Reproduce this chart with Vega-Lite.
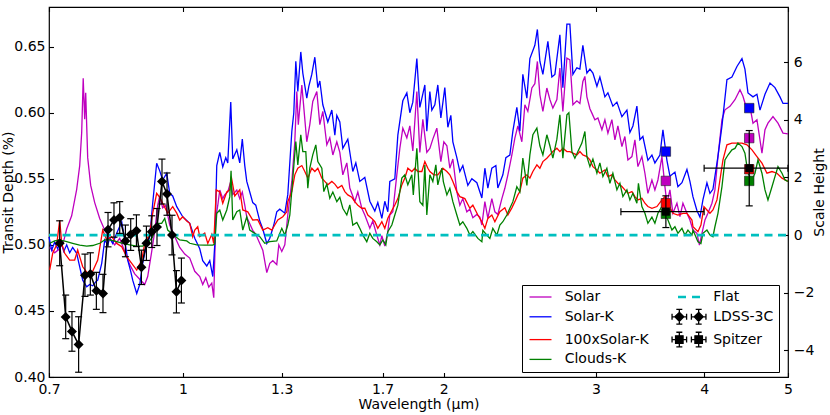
{
  "$schema": "https://vega.github.io/schema/vega-lite/v6.json",
  "width": 739,
  "height": 370,
  "autosize": {"type": "none"},
  "padding": {"left": 49, "top": 7, "right": 42, "bottom": 38},
  "background": "white",
  "config": {
    "font": "DejaVu Sans",
    "view": {"stroke": "black", "strokeWidth": 1.2},
    "axis": {
      "labelFont": "DejaVu Sans", "labelFontSize": 14, "labelColor": "black",
      "titleFont": "DejaVu Sans", "titleFontSize": 14, "titleFontWeight": "normal", "titleColor": "black",
      "tickColor": "black", "tickWidth": 1.1, "tickSize": -4.5, "domain": false, "grid": false, "labelPadding": 8.5
    }
  },
  "datasets": {
    "models": [
      {"s":"Solar","x":0.7013,"y":0.498},{"s":"Solar","x":0.7107,"y":0.494},{"s":"Solar","x":0.7202,"y":0.497},{"s":"Solar","x":0.728,"y":0.503},{"s":"Solar","x":0.7337,"y":0.512},{"s":"Solar","x":0.7435,"y":0.522},{"s":"Solar","x":0.7535,"y":0.542},{"s":"Solar","x":0.7596,"y":0.56},{"s":"Solar","x":0.7636,"y":0.585},{"s":"Solar","x":0.7667,"y":0.626},{"s":"Solar","x":0.7697,"y":0.595},{"s":"Solar","x":0.7718,"y":0.615},{"s":"Solar","x":0.7759,"y":0.566},{"s":"Solar","x":0.7821,"y":0.545},{"s":"Solar","x":0.7905,"y":0.532},{"s":"Solar","x":0.8011,"y":0.52},{"s":"Solar","x":0.8119,"y":0.511},{"s":"Solar","x":0.8227,"y":0.505},{"s":"Solar","x":0.8336,"y":0.5},{"s":"Solar","x":0.8449,"y":0.505},{"s":"Solar","x":0.8562,"y":0.495},{"s":"Solar","x":0.8677,"y":0.485},{"s":"Solar","x":0.8793,"y":0.478},{"s":"Solar","x":0.8911,"y":0.474},{"s":"Solar","x":0.903,"y":0.47},{"s":"Solar","x":0.9102,"y":0.476},{"s":"Solar","x":0.92,"y":0.495},{"s":"Solar","x":0.9273,"y":0.51},{"s":"Solar","x":0.9348,"y":0.53},{"s":"Solar","x":0.9398,"y":0.537},{"s":"Solar","x":0.9472,"y":0.528},{"s":"Solar","x":0.955,"y":0.53},{"s":"Solar","x":0.9651,"y":0.515},{"s":"Solar","x":0.9728,"y":0.51},{"s":"Solar","x":0.9833,"y":0.503},{"s":"Solar","x":0.9911,"y":0.498},{"s":"Solar","x":1.0045,"y":0.493},{"s":"Solar","x":1.0179,"y":0.49},{"s":"Solar","x":1.0316,"y":0.48},{"s":"Solar","x":1.0454,"y":0.476},{"s":"Solar","x":1.0537,"y":0.47},{"s":"Solar","x":1.0623,"y":0.475},{"s":"Solar","x":1.0708,"y":0.468},{"s":"Solar","x":1.0794,"y":0.471},{"s":"Solar","x":1.0851,"y":0.46},{"s":"Solar","x":1.0909,"y":0.52},{"s":"Solar","x":1.0968,"y":0.53},{"s":"Solar","x":1.1026,"y":0.5415},{"s":"Solar","x":1.1114,"y":0.535},{"s":"Solar","x":1.1174,"y":0.538},{"s":"Solar","x":1.1263,"y":0.54},{"s":"Solar","x":1.1353,"y":0.548},{"s":"Solar","x":1.1413,"y":0.538},{"s":"Solar","x":1.1537,"y":0.5415},{"s":"Solar","x":1.1628,"y":0.535},{"s":"Solar","x":1.1707,"y":0.54},{"s":"Solar","x":1.1784,"y":0.53},{"s":"Solar","x":1.1847,"y":0.521},{"s":"Solar","x":1.1942,"y":0.516},{"s":"Solar","x":1.2037,"y":0.511},{"s":"Solar","x":1.2134,"y":0.508},{"s":"Solar","x":1.2265,"y":0.501},{"s":"Solar","x":1.2363,"y":0.496},{"s":"Solar","x":1.2495,"y":0.479},{"s":"Solar","x":1.2595,"y":0.486},{"s":"Solar","x":1.2697,"y":0.488},{"s":"Solar","x":1.2831,"y":0.485},{"s":"Solar","x":1.2901,"y":0.5},{"s":"Solar","x":1.3004,"y":0.495},{"s":"Solar","x":1.3109,"y":0.5},{"s":"Solar","x":1.3213,"y":0.5226},{"s":"Solar","x":1.3356,"y":0.548},{"s":"Solar","x":1.3462,"y":0.578},{"s":"Solar","x":1.3534,"y":0.616},{"s":"Solar","x":1.3588,"y":0.591},{"s":"Solar","x":1.3716,"y":0.621},{"s":"Solar","x":1.3771,"y":0.608},{"s":"Solar","x":1.3898,"y":0.578},{"s":"Solar","x":1.401,"y":0.591},{"s":"Solar","x":1.4121,"y":0.6085},{"s":"Solar","x":1.4274,"y":0.616},{"s":"Solar","x":1.4389,"y":0.591},{"s":"Solar","x":1.4504,"y":0.601},{"s":"Solar","x":1.4659,"y":0.5757},{"s":"Solar","x":1.4776,"y":0.581},{"s":"Solar","x":1.4896,"y":0.568},{"s":"Solar","x":1.5054,"y":0.578},{"s":"Solar","x":1.5175,"y":0.57},{"s":"Solar","x":1.5296,"y":0.553},{"s":"Solar","x":1.546,"y":0.562},{"s":"Solar","x":1.5584,"y":0.543},{"s":"Solar","x":1.5791,"y":0.5327},{"s":"Solar","x":1.5919,"y":0.54},{"s":"Solar","x":1.609,"y":0.5276},{"s":"Solar","x":1.6218,"y":0.5226},{"s":"Solar","x":1.6436,"y":0.5125},{"s":"Solar","x":1.6566,"y":0.518},{"s":"Solar","x":1.6745,"y":0.5074},{"s":"Solar","x":1.688,"y":0.5},{"s":"Solar","x":1.697,"y":0.507},{"s":"Solar","x":1.7104,"y":0.499},{"s":"Solar","x":1.7242,"y":0.51},{"s":"Solar","x":1.7334,"y":0.5226},{"s":"Solar","x":1.7473,"y":0.525},{"s":"Solar","x":1.7659,"y":0.553},{"s":"Solar","x":1.7802,"y":0.573},{"s":"Solar","x":1.7944,"y":0.5883},{"s":"Solar","x":1.8137,"y":0.581},{"s":"Solar","x":1.8282,"y":0.59},{"s":"Solar","x":1.8428,"y":0.571},{"s":"Solar","x":1.8626,"y":0.616},{"s":"Solar","x":1.8775,"y":0.57},{"s":"Solar","x":1.8926,"y":0.595},{"s":"Solar","x":1.9127,"y":0.57},{"s":"Solar","x":1.9282,"y":0.573},{"s":"Solar","x":1.9435,"y":0.58},{"s":"Solar","x":1.9643,"y":0.5883},{"s":"Solar","x":1.9855,"y":0.563},{"s":"Solar","x":2.0013,"y":0.578},{"s":"Solar","x":2.0175,"y":0.575},{"s":"Solar","x":2.0335,"y":0.558},{"s":"Solar","x":2.0499,"y":0.565},{"s":"Solar","x":2.0717,"y":0.5403},{"s":"Solar","x":2.0884,"y":0.53},{"s":"Solar","x":2.105,"y":0.535},{"s":"Solar","x":2.1276,"y":0.525},{"s":"Solar","x":2.1448,"y":0.527},{"s":"Solar","x":2.1619,"y":0.5205},{"s":"Solar","x":2.1851,"y":0.523},{"s":"Solar","x":2.2025,"y":0.521},{"s":"Solar","x":2.2144,"y":0.515},{"s":"Solar","x":2.2321,"y":0.5327},{"s":"Solar","x":2.25,"y":0.52},{"s":"Solar","x":2.2739,"y":0.535},{"s":"Solar","x":2.2923,"y":0.525},{"s":"Solar","x":2.3105,"y":0.523},{"s":"Solar","x":2.3354,"y":0.535},{"s":"Solar","x":2.3539,"y":0.5428},{"s":"Solar","x":2.373,"y":0.553},{"s":"Solar","x":2.3984,"y":0.5681},{"s":"Solar","x":2.4175,"y":0.5808},{"s":"Solar","x":2.437,"y":0.59},{"s":"Solar","x":2.4629,"y":0.578},{"s":"Solar","x":2.4828,"y":0.606},{"s":"Solar","x":2.5025,"y":0.601},{"s":"Solar","x":2.5295,"y":0.6187},{"s":"Solar","x":2.5496,"y":0.622},{"s":"Solar","x":2.5668,"y":0.6388},{"s":"Solar","x":2.5838,"y":0.6136},{"s":"Solar","x":2.6047,"y":0.601},{"s":"Solar","x":2.6323,"y":0.6187},{"s":"Solar","x":2.6536,"y":0.61},{"s":"Solar","x":2.6747,"y":0.6035},{"s":"Solar","x":2.7035,"y":0.61},{"s":"Solar","x":2.7252,"y":0.6338},{"s":"Solar","x":2.7469,"y":0.601},{"s":"Solar","x":2.7765,"y":0.6414},{"s":"Solar","x":2.7986,"y":0.64},{"s":"Solar","x":2.8212,"y":0.606},{"s":"Solar","x":2.8511,"y":0.609},{"s":"Solar","x":2.8742,"y":0.607},{"s":"Solar","x":2.897,"y":0.6236},{"s":"Solar","x":2.9127,"y":0.6275},{"s":"Solar","x":2.9282,"y":0.612},{"s":"Solar","x":2.9518,"y":0.603},{"s":"Solar","x":2.9675,"y":0.5997},{"s":"Solar","x":2.9911,"y":0.5947},{"s":"Solar","x":3.0153,"y":0.596},{"s":"Solar","x":3.0476,"y":0.5871},{"s":"Solar","x":3.0719,"y":0.5947},{"s":"Solar","x":3.0966,"y":0.5846},{"s":"Solar","x":3.1295,"y":0.5947},{"s":"Solar","x":3.1549,"y":0.5795},{"s":"Solar","x":3.18,"y":0.59},{"s":"Solar","x":3.2141,"y":0.5744},{"s":"Solar","x":3.2396,"y":0.582},{"s":"Solar","x":3.2659,"y":0.5643},{"s":"Solar","x":3.3009,"y":0.5668},{"s":"Solar","x":3.3272,"y":0.5795},{"s":"Solar","x":3.354,"y":0.5592},{"s":"Solar","x":3.3897,"y":0.5668},{"s":"Solar","x":3.4171,"y":0.5542},{"s":"Solar","x":3.4443,"y":0.539},{"s":"Solar","x":3.4813,"y":0.5491},{"s":"Solar","x":3.509,"y":0.5416},{"s":"Solar","x":3.5373,"y":0.5491},{"s":"Solar","x":3.5753,"y":0.5668},{"s":"Solar","x":3.6038,"y":0.5441},{"s":"Solar","x":3.6229,"y":0.5315},{"s":"Solar","x":3.6521,"y":0.5416},{"s":"Solar","x":3.6811,"y":0.5239},{"s":"Solar","x":3.7208,"y":0.5315},{"s":"Solar","x":3.7507,"y":0.5213},{"s":"Solar","x":3.7806,"y":0.5315},{"s":"Solar","x":3.8212,"y":0.5239},{"s":"Solar","x":3.8517,"y":0.5188},{"s":"Solar","x":3.8827,"y":0.5112},{"s":"Solar","x":3.9239,"y":0.5087},{"s":"Solar","x":3.9505,"y":0.4998},{"s":"Solar","x":3.9767,"y":0.5087},{"s":"Solar","x":4.0087,"y":0.5188},{"s":"Solar","x":4.0406,"y":0.5239},{"s":"Solar","x":4.0841,"y":0.5315},{"s":"Solar","x":4.1165,"y":0.5416},{"s":"Solar","x":4.1499,"y":0.5668},{"s":"Solar","x":4.1944,"y":0.5947},{"s":"Solar","x":4.2279,"y":0.6022},{"s":"Solar","x":4.2846,"y":0.6048},{"s":"Solar","x":4.342,"y":0.6098},{"s":"Solar","x":4.4002,"y":0.6174},{"s":"Solar","x":4.4353,"y":0.6124},{"s":"Solar","x":4.483,"y":0.6022},{"s":"Solar","x":4.5187,"y":0.6048},{"s":"Solar","x":4.5552,"y":0.5921},{"s":"Solar","x":4.6035,"y":0.5947},{"s":"Solar","x":4.6653,"y":0.5694},{"s":"Solar","x":4.703,"y":0.5871},{"s":"Solar","x":4.7404,"y":0.5921},{"s":"Solar","x":4.8041,"y":0.5971},{"s":"Solar","x":4.8686,"y":0.5921},{"s":"Solar","x":4.9339,"y":0.5846},{"s":"Solar","x":5.0,"y":0.584},
      {"s":"Solar-K","x":0.7,"y":0.506},{"s":"Solar-K","x":0.705,"y":0.496},{"s":"Solar-K","x":0.7106,"y":0.502},{"s":"Solar-K","x":0.7164,"y":0.497},{"s":"Solar-K","x":0.7221,"y":0.503},{"s":"Solar-K","x":0.728,"y":0.495},{"s":"Solar-K","x":0.7337,"y":0.5},{"s":"Solar-K","x":0.7396,"y":0.494},{"s":"Solar-K","x":0.7455,"y":0.498},{"s":"Solar-K","x":0.7535,"y":0.4936},{"s":"Solar-K","x":0.7596,"y":0.4834},{"s":"Solar-K","x":0.7657,"y":0.4733},{"s":"Solar-K","x":0.7739,"y":0.4683},{"s":"Solar-K","x":0.78,"y":0.47},{"s":"Solar-K","x":0.7863,"y":0.469},{"s":"Solar-K","x":0.7925,"y":0.472},{"s":"Solar-K","x":0.7969,"y":0.4733},{"s":"Solar-K","x":0.8054,"y":0.486},{"s":"Solar-K","x":0.8119,"y":0.5037},{"s":"Solar-K","x":0.8183,"y":0.5},{"s":"Solar-K","x":0.8227,"y":0.505},{"s":"Solar-K","x":0.8293,"y":0.501},{"s":"Solar-K","x":0.8382,"y":0.5087},{"s":"Solar-K","x":0.8494,"y":0.5175},{"s":"Solar-K","x":0.8562,"y":0.5037},{"s":"Solar-K","x":0.8631,"y":0.4885},{"s":"Solar-K","x":0.87,"y":0.48},{"s":"Solar-K","x":0.8746,"y":0.4733},{"s":"Solar-K","x":0.884,"y":0.4632},{"s":"Solar-K","x":0.8911,"y":0.47},{"s":"Solar-K","x":0.8982,"y":0.486},{"s":"Solar-K","x":0.903,"y":0.4936},{"s":"Solar-K","x":0.915,"y":0.5061},{"s":"Solar-K","x":0.9224,"y":0.5315},{"s":"Solar-K","x":0.9322,"y":0.5618},{"s":"Solar-K","x":0.9398,"y":0.556},{"s":"Solar-K","x":0.9472,"y":0.5491},{"s":"Solar-K","x":0.9575,"y":0.5542},{"s":"Solar-K","x":0.9651,"y":0.539},{"s":"Solar-K","x":0.9728,"y":0.537},{"s":"Solar-K","x":0.9833,"y":0.5289},{"s":"Solar-K","x":0.9991,"y":0.5213},{"s":"Solar-K","x":1.0179,"y":0.5163},{"s":"Solar-K","x":1.0316,"y":0.505},{"s":"Solar-K","x":1.0454,"y":0.497},{"s":"Solar-K","x":1.0537,"y":0.488},{"s":"Solar-K","x":1.0651,"y":0.484},{"s":"Solar-K","x":1.0736,"y":0.488},{"s":"Solar-K","x":1.0823,"y":0.476},{"s":"Solar-K","x":1.088,"y":0.5},{"s":"Solar-K","x":1.0938,"y":0.56},{"s":"Solar-K","x":1.1026,"y":0.57},{"s":"Solar-K","x":1.1114,"y":0.559},{"s":"Solar-K","x":1.1203,"y":0.566},{"s":"Solar-K","x":1.1263,"y":0.562},{"s":"Solar-K","x":1.1353,"y":0.608},{"s":"Solar-K","x":1.1413,"y":0.565},{"s":"Solar-K","x":1.1537,"y":0.572},{"s":"Solar-K","x":1.1628,"y":0.562},{"s":"Solar-K","x":1.1707,"y":0.58},{"s":"Solar-K","x":1.1784,"y":0.56},{"s":"Solar-K","x":1.1847,"y":0.548},{"s":"Solar-K","x":1.1942,"y":0.54},{"s":"Solar-K","x":1.2037,"y":0.532},{"s":"Solar-K","x":1.2134,"y":0.53},{"s":"Solar-K","x":1.2265,"y":0.518},{"s":"Solar-K","x":1.2363,"y":0.512},{"s":"Solar-K","x":1.2495,"y":0.501},{"s":"Solar-K","x":1.2595,"y":0.505},{"s":"Solar-K","x":1.273,"y":0.515},{"s":"Solar-K","x":1.2831,"y":0.525},{"s":"Solar-K","x":1.2935,"y":0.527},{"s":"Solar-K","x":1.3109,"y":0.524},{"s":"Solar-K","x":1.3213,"y":0.538},{"s":"Solar-K","x":1.3356,"y":0.586},{"s":"Solar-K","x":1.3426,"y":0.6},{"s":"Solar-K","x":1.3498,"y":0.639},{"s":"Solar-K","x":1.357,"y":0.616},{"s":"Solar-K","x":1.3678,"y":0.646},{"s":"Solar-K","x":1.3752,"y":0.63},{"s":"Solar-K","x":1.3898,"y":0.611},{"s":"Solar-K","x":1.3973,"y":0.62},{"s":"Solar-K","x":1.4084,"y":0.629},{"s":"Solar-K","x":1.4199,"y":0.642},{"s":"Solar-K","x":1.4312,"y":0.619},{"s":"Solar-K","x":1.4389,"y":0.624},{"s":"Solar-K","x":1.4504,"y":0.606},{"s":"Solar-K","x":1.4698,"y":0.593},{"s":"Solar-K","x":1.4856,"y":0.602},{"s":"Solar-K","x":1.4975,"y":0.583},{"s":"Solar-K","x":1.5054,"y":0.598},{"s":"Solar-K","x":1.5175,"y":0.593},{"s":"Solar-K","x":1.5296,"y":0.573},{"s":"Solar-K","x":1.5501,"y":0.58},{"s":"Solar-K","x":1.5708,"y":0.5555},{"s":"Solar-K","x":1.5835,"y":0.562},{"s":"Solar-K","x":1.6003,"y":0.548},{"s":"Solar-K","x":1.6218,"y":0.551},{"s":"Solar-K","x":1.6436,"y":0.533},{"s":"Solar-K","x":1.6656,"y":0.5255},{"s":"Solar-K","x":1.6789,"y":0.532},{"s":"Solar-K","x":1.697,"y":0.52},{"s":"Solar-K","x":1.7104,"y":0.533},{"s":"Solar-K","x":1.7242,"y":0.525},{"s":"Solar-K","x":1.7334,"y":0.548},{"s":"Solar-K","x":1.7566,"y":0.55},{"s":"Solar-K","x":1.7708,"y":0.583},{"s":"Solar-K","x":1.7944,"y":0.609},{"s":"Solar-K","x":1.8137,"y":0.615},{"s":"Solar-K","x":1.8282,"y":0.6},{"s":"Solar-K","x":1.8428,"y":0.608},{"s":"Solar-K","x":1.8626,"y":0.641},{"s":"Solar-K","x":1.8775,"y":0.604},{"s":"Solar-K","x":1.9027,"y":0.621},{"s":"Solar-K","x":1.9127,"y":0.586},{"s":"Solar-K","x":1.9282,"y":0.616},{"s":"Solar-K","x":1.9384,"y":0.602},{"s":"Solar-K","x":1.954,"y":0.606},{"s":"Solar-K","x":1.9695,"y":0.621},{"s":"Solar-K","x":1.9855,"y":0.596},{"s":"Solar-K","x":2.0065,"y":0.619},{"s":"Solar-K","x":2.0228,"y":0.589},{"s":"Solar-K","x":2.0389,"y":0.598},{"s":"Solar-K","x":2.0499,"y":0.578},{"s":"Solar-K","x":2.0717,"y":0.566},{"s":"Solar-K","x":2.0884,"y":0.5555},{"s":"Solar-K","x":2.105,"y":0.56},{"s":"Solar-K","x":2.1333,"y":0.545},{"s":"Solar-K","x":2.1562,"y":0.55},{"s":"Solar-K","x":2.1851,"y":0.547},{"s":"Solar-K","x":2.2144,"y":0.5355},{"s":"Solar-K","x":2.2321,"y":0.558},{"s":"Solar-K","x":2.25,"y":0.543},{"s":"Solar-K","x":2.2739,"y":0.558},{"s":"Solar-K","x":2.2984,"y":0.56},{"s":"Solar-K","x":2.3105,"y":0.543},{"s":"Solar-K","x":2.3415,"y":0.553},{"s":"Solar-K","x":2.3604,"y":0.566},{"s":"Solar-K","x":2.3855,"y":0.568},{"s":"Solar-K","x":2.4048,"y":0.586},{"s":"Solar-K","x":2.4303,"y":0.604},{"s":"Solar-K","x":2.45,"y":0.586},{"s":"Solar-K","x":2.4694,"y":0.629},{"s":"Solar-K","x":2.496,"y":0.611},{"s":"Solar-K","x":2.5161,"y":0.641},{"s":"Solar-K","x":2.5496,"y":0.651},{"s":"Solar-K","x":2.5668,"y":0.663},{"s":"Solar-K","x":2.5838,"y":0.639},{"s":"Solar-K","x":2.6047,"y":0.629},{"s":"Solar-K","x":2.6396,"y":0.654},{"s":"Solar-K","x":2.6677,"y":0.627},{"s":"Solar-K","x":2.6892,"y":0.629},{"s":"Solar-K","x":2.7252,"y":0.659},{"s":"Solar-K","x":2.7469,"y":0.619},{"s":"Solar-K","x":2.7765,"y":0.667},{"s":"Solar-K","x":2.7986,"y":0.667},{"s":"Solar-K","x":2.8212,"y":0.629},{"s":"Solar-K","x":2.8511,"y":0.634},{"s":"Solar-K","x":2.8742,"y":0.633},{"s":"Solar-K","x":2.897,"y":0.651},{"s":"Solar-K","x":2.9282,"y":0.63},{"s":"Solar-K","x":2.9518,"y":0.633},{"s":"Solar-K","x":2.9754,"y":0.63},{"s":"Solar-K","x":3.0073,"y":0.62},{"s":"Solar-K","x":3.0312,"y":0.627},{"s":"Solar-K","x":3.0719,"y":0.612},{"s":"Solar-K","x":3.0966,"y":0.615},{"s":"Solar-K","x":3.1378,"y":0.605},{"s":"Solar-K","x":3.1716,"y":0.608},{"s":"Solar-K","x":3.2141,"y":0.597},{"s":"Solar-K","x":3.2572,"y":0.602},{"s":"Solar-K","x":3.2832,"y":0.585},{"s":"Solar-K","x":3.3097,"y":0.59},{"s":"Solar-K","x":3.3448,"y":0.605},{"s":"Solar-K","x":3.3718,"y":0.5795},{"s":"Solar-K","x":3.3986,"y":0.582},{"s":"Solar-K","x":3.4443,"y":0.564},{"s":"Solar-K","x":3.4813,"y":0.568},{"s":"Solar-K","x":3.509,"y":0.562},{"s":"Solar-K","x":3.556,"y":0.568},{"s":"Solar-K","x":3.5848,"y":0.587},{"s":"Solar-K","x":3.6229,"y":0.564},{"s":"Solar-K","x":3.6521,"y":0.552},{"s":"Solar-K","x":3.7011,"y":0.555},{"s":"Solar-K","x":3.7306,"y":0.544},{"s":"Solar-K","x":3.7707,"y":0.547},{"s":"Solar-K","x":3.8212,"y":0.557},{"s":"Solar-K","x":3.8517,"y":0.548},{"s":"Solar-K","x":3.8827,"y":0.5365},{"s":"Solar-K","x":3.9239,"y":0.526},{"s":"Solar-K","x":3.9557,"y":0.521},{"s":"Solar-K","x":3.9871,"y":0.534},{"s":"Solar-K","x":4.03,"y":0.547},{"s":"Solar-K","x":4.0625,"y":0.539},{"s":"Solar-K","x":4.0949,"y":0.542},{"s":"Solar-K","x":4.1499,"y":0.567},{"s":"Solar-K","x":4.1944,"y":0.59},{"s":"Solar-K","x":4.2502,"y":0.625},{"s":"Solar-K","x":4.3072,"y":0.627},{"s":"Solar-K","x":4.3651,"y":0.635},{"s":"Solar-K","x":4.4236,"y":0.641},{"s":"Solar-K","x":4.4587,"y":0.633},{"s":"Solar-K","x":4.4949,"y":0.615},{"s":"Solar-K","x":4.5552,"y":0.612},{"s":"Solar-K","x":4.6035,"y":0.614},{"s":"Solar-K","x":4.6408,"y":0.602},{"s":"Solar-K","x":4.703,"y":0.614},{"s":"Solar-K","x":4.7661,"y":0.6225},{"s":"Solar-K","x":4.8295,"y":0.619},{"s":"Solar-K","x":4.8943,"y":0.612},{"s":"Solar-K","x":4.9339,"y":0.607},{"s":"Solar-K","x":5.0,"y":0.607},
      {"s":"100xSolar-K","x":0.7013,"y":0.481},{"s":"100xSolar-K","x":0.7069,"y":0.4936},{"s":"100xSolar-K","x":0.7145,"y":0.5},{"s":"100xSolar-K","x":0.7202,"y":0.5188},{"s":"100xSolar-K","x":0.7241,"y":0.5011},{"s":"100xSolar-K","x":0.7299,"y":0.4936},{"s":"100xSolar-K","x":0.7396,"y":0.4885},{"s":"100xSolar-K","x":0.7495,"y":0.4885},{"s":"100xSolar-K","x":0.7555,"y":0.4961},{"s":"100xSolar-K","x":0.7657,"y":0.4834},{"s":"100xSolar-K","x":0.7759,"y":0.4784},{"s":"100xSolar-K","x":0.7863,"y":0.48},{"s":"100xSolar-K","x":0.7969,"y":0.4885},{"s":"100xSolar-K","x":0.8075,"y":0.5112},{"s":"100xSolar-K","x":0.8162,"y":0.5037},{"s":"100xSolar-K","x":0.8271,"y":0.5062},{"s":"100xSolar-K","x":0.8382,"y":0.5011},{"s":"100xSolar-K","x":0.8494,"y":0.4986},{"s":"100xSolar-K","x":0.8607,"y":0.491},{"s":"100xSolar-K","x":0.8723,"y":0.486},{"s":"100xSolar-K","x":0.884,"y":0.4809},{"s":"100xSolar-K","x":0.8958,"y":0.4885},{"s":"100xSolar-K","x":0.903,"y":0.5011},{"s":"100xSolar-K","x":0.915,"y":0.5087},{"s":"100xSolar-K","x":0.9224,"y":0.5239},{"s":"100xSolar-K","x":0.9322,"y":0.539},{"s":"100xSolar-K","x":0.9398,"y":0.536},{"s":"100xSolar-K","x":0.9472,"y":0.5315},{"s":"100xSolar-K","x":0.96,"y":0.5239},{"s":"100xSolar-K","x":0.9728,"y":0.5289},{"s":"100xSolar-K","x":0.9833,"y":0.524},{"s":"100xSolar-K","x":0.9911,"y":0.5188},{"s":"100xSolar-K","x":0.9991,"y":0.5213},{"s":"100xSolar-K","x":1.0098,"y":0.518},{"s":"100xSolar-K","x":1.0179,"y":0.5163},{"s":"100xSolar-K","x":1.026,"y":0.5062},{"s":"100xSolar-K","x":1.0316,"y":0.5112},{"s":"100xSolar-K","x":1.0398,"y":0.5137},{"s":"100xSolar-K","x":1.0454,"y":0.5062},{"s":"100xSolar-K","x":1.0593,"y":0.509},{"s":"100xSolar-K","x":1.068,"y":0.5011},{"s":"100xSolar-K","x":1.0794,"y":0.508},{"s":"100xSolar-K","x":1.0851,"y":0.501},{"s":"100xSolar-K","x":1.0923,"y":0.5416},{"s":"100xSolar-K","x":1.1026,"y":0.54},{"s":"100xSolar-K","x":1.1114,"y":0.5315},{"s":"100xSolar-K","x":1.1233,"y":0.54},{"s":"100xSolar-K","x":1.1323,"y":0.5416},{"s":"100xSolar-K","x":1.1368,"y":0.5517},{"s":"100xSolar-K","x":1.1474,"y":0.537},{"s":"100xSolar-K","x":1.1628,"y":0.5416},{"s":"100xSolar-K","x":1.1722,"y":0.5264},{"s":"100xSolar-K","x":1.1879,"y":0.525},{"s":"100xSolar-K","x":1.2037,"y":0.5188},{"s":"100xSolar-K","x":1.2198,"y":0.519},{"s":"100xSolar-K","x":1.2363,"y":0.5112},{"s":"100xSolar-K","x":1.2528,"y":0.513},{"s":"100xSolar-K","x":1.2663,"y":0.5112},{"s":"100xSolar-K","x":1.2764,"y":0.515},{"s":"100xSolar-K","x":1.2867,"y":0.5188},{"s":"100xSolar-K","x":1.3038,"y":0.5213},{"s":"100xSolar-K","x":1.3178,"y":0.525},{"s":"100xSolar-K","x":1.3213,"y":0.5327},{"s":"100xSolar-K","x":1.3356,"y":0.5403},{"s":"100xSolar-K","x":1.3462,"y":0.553},{"s":"100xSolar-K","x":1.357,"y":0.558},{"s":"100xSolar-K","x":1.3716,"y":0.56},{"s":"100xSolar-K","x":1.3825,"y":0.5555},{"s":"100xSolar-K","x":1.3936,"y":0.5505},{"s":"100xSolar-K","x":1.4084,"y":0.558},{"s":"100xSolar-K","x":1.4199,"y":0.5555},{"s":"100xSolar-K","x":1.4312,"y":0.558},{"s":"100xSolar-K","x":1.4466,"y":0.5505},{"s":"100xSolar-K","x":1.458,"y":0.548},{"s":"100xSolar-K","x":1.4698,"y":0.5454},{"s":"100xSolar-K","x":1.4856,"y":0.548},{"s":"100xSolar-K","x":1.4975,"y":0.546},{"s":"100xSolar-K","x":1.5095,"y":0.543},{"s":"100xSolar-K","x":1.5256,"y":0.545},{"s":"100xSolar-K","x":1.5379,"y":0.5403},{"s":"100xSolar-K","x":1.5501,"y":0.5378},{"s":"100xSolar-K","x":1.5667,"y":0.536},{"s":"100xSolar-K","x":1.5791,"y":0.5327},{"s":"100xSolar-K","x":1.5919,"y":0.53},{"s":"100xSolar-K","x":1.609,"y":0.5277},{"s":"100xSolar-K","x":1.6218,"y":0.5277},{"s":"100xSolar-K","x":1.6349,"y":0.5226},{"s":"100xSolar-K","x":1.6523,"y":0.52},{"s":"100xSolar-K","x":1.6656,"y":0.5175},{"s":"100xSolar-K","x":1.6789,"y":0.5125},{"s":"100xSolar-K","x":1.697,"y":0.5175},{"s":"100xSolar-K","x":1.7104,"y":0.5125},{"s":"100xSolar-K","x":1.7242,"y":0.5201},{"s":"100xSolar-K","x":1.7427,"y":0.526},{"s":"100xSolar-K","x":1.7566,"y":0.5302},{"s":"100xSolar-K","x":1.7708,"y":0.535},{"s":"100xSolar-K","x":1.7896,"y":0.5454},{"s":"100xSolar-K","x":1.8041,"y":0.5505},{"s":"100xSolar-K","x":1.8184,"y":0.558},{"s":"100xSolar-K","x":1.8379,"y":0.5555},{"s":"100xSolar-K","x":1.8525,"y":0.558},{"s":"100xSolar-K","x":1.8676,"y":0.5555},{"s":"100xSolar-K","x":1.8876,"y":0.5555},{"s":"100xSolar-K","x":1.9027,"y":0.563},{"s":"100xSolar-K","x":1.918,"y":0.558},{"s":"100xSolar-K","x":1.9282,"y":0.5555},{"s":"100xSolar-K","x":1.9488,"y":0.553},{"s":"100xSolar-K","x":1.9695,"y":0.553},{"s":"100xSolar-K","x":1.996,"y":0.558},{"s":"100xSolar-K","x":2.0175,"y":0.5555},{"s":"100xSolar-K","x":2.0335,"y":0.553},{"s":"100xSolar-K","x":2.0499,"y":0.548},{"s":"100xSolar-K","x":2.0717,"y":0.5403},{"s":"100xSolar-K","x":2.0884,"y":0.5365},{"s":"100xSolar-K","x":2.1164,"y":0.535},{"s":"100xSolar-K","x":2.1448,"y":0.5277},{"s":"100xSolar-K","x":2.1619,"y":0.53},{"s":"100xSolar-K","x":2.1909,"y":0.5226},{"s":"100xSolar-K","x":2.2144,"y":0.5175},{"s":"100xSolar-K","x":2.2321,"y":0.5125},{"s":"100xSolar-K","x":2.25,"y":0.52},{"s":"100xSolar-K","x":2.2739,"y":0.5226},{"s":"100xSolar-K","x":2.2923,"y":0.5175},{"s":"100xSolar-K","x":2.323,"y":0.5251},{"s":"100xSolar-K","x":2.3539,"y":0.528},{"s":"100xSolar-K","x":2.373,"y":0.5226},{"s":"100xSolar-K","x":2.3984,"y":0.528},{"s":"100xSolar-K","x":2.4175,"y":0.5327},{"s":"100xSolar-K","x":2.437,"y":0.5378},{"s":"100xSolar-K","x":2.45,"y":0.5403},{"s":"100xSolar-K","x":2.4694,"y":0.5505},{"s":"100xSolar-K","x":2.496,"y":0.553},{"s":"100xSolar-K","x":2.5161,"y":0.5505},{"s":"100xSolar-K","x":2.5362,"y":0.5555},{"s":"100xSolar-K","x":2.5634,"y":0.5605},{"s":"100xSolar-K","x":2.5838,"y":0.558},{"s":"100xSolar-K","x":2.6047,"y":0.563},{"s":"100xSolar-K","x":2.6323,"y":0.5655},{"s":"100xSolar-K","x":2.6536,"y":0.5681},{"s":"100xSolar-K","x":2.6747,"y":0.5706},{"s":"100xSolar-K","x":2.7035,"y":0.5731},{"s":"100xSolar-K","x":2.7252,"y":0.5706},{"s":"100xSolar-K","x":2.7469,"y":0.5731},{"s":"100xSolar-K","x":2.7765,"y":0.5706},{"s":"100xSolar-K","x":2.7986,"y":0.5706},{"s":"100xSolar-K","x":2.8212,"y":0.5694},{"s":"100xSolar-K","x":2.8511,"y":0.5681},{"s":"100xSolar-K","x":2.8742,"y":0.5706},{"s":"100xSolar-K","x":2.897,"y":0.5681},{"s":"100xSolar-K","x":2.9282,"y":0.5668},{"s":"100xSolar-K","x":2.9518,"y":0.5643},{"s":"100xSolar-K","x":2.9754,"y":0.5592},{"s":"100xSolar-K","x":3.0073,"y":0.5567},{"s":"100xSolar-K","x":3.0312,"y":0.5542},{"s":"100xSolar-K","x":3.0719,"y":0.5567},{"s":"100xSolar-K","x":3.0966,"y":0.5517},{"s":"100xSolar-K","x":3.1295,"y":0.553},{"s":"100xSolar-K","x":3.1549,"y":0.5491},{"s":"100xSolar-K","x":3.18,"y":0.5466},{"s":"100xSolar-K","x":3.2141,"y":0.5441},{"s":"100xSolar-K","x":3.2396,"y":0.5416},{"s":"100xSolar-K","x":3.2659,"y":0.539},{"s":"100xSolar-K","x":3.3009,"y":0.5403},{"s":"100xSolar-K","x":3.3272,"y":0.5365},{"s":"100xSolar-K","x":3.354,"y":0.534},{"s":"100xSolar-K","x":3.3897,"y":0.5352},{"s":"100xSolar-K","x":3.4171,"y":0.5315},{"s":"100xSolar-K","x":3.4443,"y":0.529},{"s":"100xSolar-K","x":3.4813,"y":0.5277},{"s":"100xSolar-K","x":3.528,"y":0.529},{"s":"100xSolar-K","x":3.5753,"y":0.534},{"s":"100xSolar-K","x":3.6038,"y":0.5365},{"s":"100xSolar-K","x":3.6328,"y":0.5315},{"s":"100xSolar-K","x":3.6811,"y":0.5239},{"s":"100xSolar-K","x":3.7306,"y":0.5226},{"s":"100xSolar-K","x":3.7806,"y":0.5239},{"s":"100xSolar-K","x":3.8212,"y":0.5239},{"s":"100xSolar-K","x":3.8724,"y":0.5188},{"s":"100xSolar-K","x":3.8833,"y":0.5137},{"s":"100xSolar-K","x":3.9348,"y":0.51},{"s":"100xSolar-K","x":3.9662,"y":0.515},{"s":"100xSolar-K","x":3.9981,"y":0.5289},{"s":"100xSolar-K","x":4.03,"y":0.5264},{"s":"100xSolar-K","x":4.0625,"y":0.5239},{"s":"100xSolar-K","x":4.0949,"y":0.5264},{"s":"100xSolar-K","x":4.1389,"y":0.534},{"s":"100xSolar-K","x":4.1718,"y":0.5491},{"s":"100xSolar-K","x":4.2056,"y":0.5643},{"s":"100xSolar-K","x":4.2502,"y":0.5757},{"s":"100xSolar-K","x":4.3072,"y":0.577},{"s":"100xSolar-K","x":4.3651,"y":0.577},{"s":"100xSolar-K","x":4.4236,"y":0.577},{"s":"100xSolar-K","x":4.483,"y":0.5757},{"s":"100xSolar-K","x":4.5431,"y":0.5719},{"s":"100xSolar-K","x":4.6035,"y":0.5668},{"s":"100xSolar-K","x":4.6653,"y":0.5618},{"s":"100xSolar-K","x":4.7279,"y":0.5542},{"s":"100xSolar-K","x":4.7914,"y":0.5555},{"s":"100xSolar-K","x":4.8557,"y":0.5542},{"s":"100xSolar-K","x":4.9208,"y":0.5505},{"s":"100xSolar-K","x":5.0,"y":0.548},
      {"s":"Clouds-K","x":0.7013,"y":0.5012},{"s":"Clouds-K","x":0.7107,"y":0.503},{"s":"Clouds-K","x":0.7202,"y":0.5037},{"s":"Clouds-K","x":0.728,"y":0.503},{"s":"Clouds-K","x":0.7337,"y":0.5025},{"s":"Clouds-K","x":0.7455,"y":0.5012},{"s":"Clouds-K","x":0.7596,"y":0.4998},{"s":"Clouds-K","x":0.7739,"y":0.499},{"s":"Clouds-K","x":0.7863,"y":0.4995},{"s":"Clouds-K","x":0.8011,"y":0.5012},{"s":"Clouds-K","x":0.8119,"y":0.5037},{"s":"Clouds-K","x":0.8227,"y":0.5037},{"s":"Clouds-K","x":0.8382,"y":0.5025},{"s":"Clouds-K","x":0.8517,"y":0.5012},{"s":"Clouds-K","x":0.8677,"y":0.5},{"s":"Clouds-K","x":0.884,"y":0.499},{"s":"Clouds-K","x":0.8982,"y":0.499},{"s":"Clouds-K","x":0.9102,"y":0.5012},{"s":"Clouds-K","x":0.9224,"y":0.5062},{"s":"Clouds-K","x":0.9348,"y":0.5163},{"s":"Clouds-K","x":0.9447,"y":0.5163},{"s":"Clouds-K","x":0.9524,"y":0.52},{"s":"Clouds-K","x":0.96,"y":0.5112},{"s":"Clouds-K","x":0.9728,"y":0.508},{"s":"Clouds-K","x":0.9911,"y":0.5037},{"s":"Clouds-K","x":1.0098,"y":0.503},{"s":"Clouds-K","x":1.0179,"y":0.5012},{"s":"Clouds-K","x":1.0371,"y":0.5},{"s":"Clouds-K","x":1.0593,"y":0.4998},{"s":"Clouds-K","x":1.0823,"y":0.4998},{"s":"Clouds-K","x":1.088,"y":0.5005},{"s":"Clouds-K","x":1.0938,"y":0.5239},{"s":"Clouds-K","x":1.1026,"y":0.5264},{"s":"Clouds-K","x":1.1114,"y":0.5188},{"s":"Clouds-K","x":1.1233,"y":0.5264},{"s":"Clouds-K","x":1.1323,"y":0.5365},{"s":"Clouds-K","x":1.1362,"y":0.556},{"s":"Clouds-K","x":1.1413,"y":0.5188},{"s":"Clouds-K","x":1.1537,"y":0.525},{"s":"Clouds-K","x":1.1628,"y":0.5264},{"s":"Clouds-K","x":1.1722,"y":0.5112},{"s":"Clouds-K","x":1.1847,"y":0.5213},{"s":"Clouds-K","x":1.1942,"y":0.5112},{"s":"Clouds-K","x":1.2102,"y":0.5087},{"s":"Clouds-K","x":1.2265,"y":0.5062},{"s":"Clouds-K","x":1.2428,"y":0.5012},{"s":"Clouds-K","x":1.2595,"y":0.5024},{"s":"Clouds-K","x":1.2831,"y":0.503},{"s":"Clouds-K","x":1.3004,"y":0.5125},{"s":"Clouds-K","x":1.3109,"y":0.5074},{"s":"Clouds-K","x":1.3213,"y":0.515},{"s":"Clouds-K","x":1.3285,"y":0.5226},{"s":"Clouds-K","x":1.3391,"y":0.5505},{"s":"Clouds-K","x":1.3498,"y":0.5782},{"s":"Clouds-K","x":1.357,"y":0.5605},{"s":"Clouds-K","x":1.3678,"y":0.5833},{"s":"Clouds-K","x":1.3752,"y":0.5706},{"s":"Clouds-K","x":1.3862,"y":0.5706},{"s":"Clouds-K","x":1.3936,"y":0.5429},{"s":"Clouds-K","x":1.401,"y":0.558},{"s":"Clouds-K","x":1.4121,"y":0.5681},{"s":"Clouds-K","x":1.4236,"y":0.5757},{"s":"Clouds-K","x":1.4312,"y":0.5631},{"s":"Clouds-K","x":1.4466,"y":0.558},{"s":"Clouds-K","x":1.4542,"y":0.5403},{"s":"Clouds-K","x":1.4659,"y":0.546},{"s":"Clouds-K","x":1.4776,"y":0.5352},{"s":"Clouds-K","x":1.4896,"y":0.54},{"s":"Clouds-K","x":1.5054,"y":0.5327},{"s":"Clouds-K","x":1.5175,"y":0.536},{"s":"Clouds-K","x":1.5296,"y":0.5277},{"s":"Clouds-K","x":1.546,"y":0.5226},{"s":"Clouds-K","x":1.5584,"y":0.5302},{"s":"Clouds-K","x":1.5708,"y":0.515},{"s":"Clouds-K","x":1.5877,"y":0.517},{"s":"Clouds-K","x":1.6003,"y":0.5125},{"s":"Clouds-K","x":1.6133,"y":0.5074},{"s":"Clouds-K","x":1.6304,"y":0.5024},{"s":"Clouds-K","x":1.6436,"y":0.5087},{"s":"Clouds-K","x":1.6566,"y":0.5049},{"s":"Clouds-K","x":1.6745,"y":0.5024},{"s":"Clouds-K","x":1.688,"y":0.5},{"s":"Clouds-K","x":1.7015,"y":0.5037},{"s":"Clouds-K","x":1.7151,"y":0.5},{"s":"Clouds-K","x":1.7242,"y":0.51},{"s":"Clouds-K","x":1.7427,"y":0.515},{"s":"Clouds-K","x":1.7566,"y":0.5226},{"s":"Clouds-K","x":1.7708,"y":0.53},{"s":"Clouds-K","x":1.7896,"y":0.5505},{"s":"Clouds-K","x":1.8041,"y":0.553},{"s":"Clouds-K","x":1.8184,"y":0.5454},{"s":"Clouds-K","x":1.8379,"y":0.553},{"s":"Clouds-K","x":1.8452,"y":0.5378},{"s":"Clouds-K","x":1.8626,"y":0.5731},{"s":"Clouds-K","x":1.8775,"y":0.5327},{"s":"Clouds-K","x":1.8926,"y":0.53},{"s":"Clouds-K","x":1.9027,"y":0.5605},{"s":"Clouds-K","x":1.9127,"y":0.5226},{"s":"Clouds-K","x":1.9282,"y":0.553},{"s":"Clouds-K","x":1.9435,"y":0.5479},{"s":"Clouds-K","x":1.9592,"y":0.5605},{"s":"Clouds-K","x":1.9695,"y":0.5454},{"s":"Clouds-K","x":1.9907,"y":0.558},{"s":"Clouds-K","x":1.9986,"y":0.5479},{"s":"Clouds-K","x":2.0175,"y":0.5378},{"s":"Clouds-K","x":2.0335,"y":0.5428},{"s":"Clouds-K","x":2.0499,"y":0.5327},{"s":"Clouds-K","x":2.0717,"y":0.5226},{"s":"Clouds-K","x":2.0884,"y":0.515},{"s":"Clouds-K","x":2.105,"y":0.5175},{"s":"Clouds-K","x":2.1276,"y":0.5125},{"s":"Clouds-K","x":2.1448,"y":0.5074},{"s":"Clouds-K","x":2.1619,"y":0.51},{"s":"Clouds-K","x":2.1909,"y":0.5049},{"s":"Clouds-K","x":2.2144,"y":0.5024},{"s":"Clouds-K","x":2.2203,"y":0.511},{"s":"Clouds-K","x":2.2439,"y":0.5074},{"s":"Clouds-K","x":2.262,"y":0.5049},{"s":"Clouds-K","x":2.2799,"y":0.5125},{"s":"Clouds-K","x":2.3044,"y":0.5074},{"s":"Clouds-K","x":2.323,"y":0.515},{"s":"Clouds-K","x":2.3415,"y":0.5175},{"s":"Clouds-K","x":2.3667,"y":0.5226},{"s":"Clouds-K","x":2.3855,"y":0.5277},{"s":"Clouds-K","x":2.4048,"y":0.5327},{"s":"Clouds-K","x":2.4303,"y":0.544},{"s":"Clouds-K","x":2.45,"y":0.54},{"s":"Clouds-K","x":2.4694,"y":0.5656},{"s":"Clouds-K","x":2.496,"y":0.545},{"s":"Clouds-K","x":2.5161,"y":0.5681},{"s":"Clouds-K","x":2.5362,"y":0.5833},{"s":"Clouds-K","x":2.5634,"y":0.5883},{"s":"Clouds-K","x":2.5838,"y":0.575},{"s":"Clouds-K","x":2.6047,"y":0.5681},{"s":"Clouds-K","x":2.6323,"y":0.5833},{"s":"Clouds-K","x":2.6536,"y":0.575},{"s":"Clouds-K","x":2.6747,"y":0.5656},{"s":"Clouds-K","x":2.7035,"y":0.58},{"s":"Clouds-K","x":2.7252,"y":0.5984},{"s":"Clouds-K","x":2.7469,"y":0.5656},{"s":"Clouds-K","x":2.7765,"y":0.5984},{"s":"Clouds-K","x":2.7912,"y":0.6},{"s":"Clouds-K","x":2.8137,"y":0.5706},{"s":"Clouds-K","x":2.8361,"y":0.5656},{"s":"Clouds-K","x":2.859,"y":0.5706},{"s":"Clouds-K","x":2.8894,"y":0.577},{"s":"Clouds-K","x":2.9127,"y":0.5858},{"s":"Clouds-K","x":2.9282,"y":0.5668},{"s":"Clouds-K","x":2.9518,"y":0.5592},{"s":"Clouds-K","x":2.9754,"y":0.565},{"s":"Clouds-K","x":3.0073,"y":0.5542},{"s":"Clouds-K","x":3.0312,"y":0.562},{"s":"Clouds-K","x":3.0557,"y":0.5517},{"s":"Clouds-K","x":3.0881,"y":0.558},{"s":"Clouds-K","x":3.1131,"y":0.5466},{"s":"Clouds-K","x":3.1378,"y":0.5542},{"s":"Clouds-K","x":3.1716,"y":0.5416},{"s":"Clouds-K","x":3.1971,"y":0.5466},{"s":"Clouds-K","x":3.2226,"y":0.5365},{"s":"Clouds-K","x":3.2572,"y":0.5416},{"s":"Clouds-K","x":3.2832,"y":0.534},{"s":"Clouds-K","x":3.3097,"y":0.539},{"s":"Clouds-K","x":3.3448,"y":0.5315},{"s":"Clouds-K","x":3.3585,"y":0.5466},{"s":"Clouds-K","x":3.3897,"y":0.529},{"s":"Clouds-K","x":3.4171,"y":0.5239},{"s":"Clouds-K","x":3.4443,"y":0.5163},{"s":"Clouds-K","x":3.4813,"y":0.521},{"s":"Clouds-K","x":3.509,"y":0.5163},{"s":"Clouds-K","x":3.5373,"y":0.5239},{"s":"Clouds-K","x":3.5753,"y":0.529},{"s":"Clouds-K","x":3.6038,"y":0.5239},{"s":"Clouds-K","x":3.6328,"y":0.5188},{"s":"Clouds-K","x":3.6715,"y":0.5112},{"s":"Clouds-K","x":3.7011,"y":0.5137},{"s":"Clouds-K","x":3.7306,"y":0.5087},{"s":"Clouds-K","x":3.7707,"y":0.5125},{"s":"Clouds-K","x":3.8006,"y":0.5074},{"s":"Clouds-K","x":3.8314,"y":0.5112},{"s":"Clouds-K","x":3.8724,"y":0.5074},{"s":"Clouds-K","x":3.8833,"y":0.5112},{"s":"Clouds-K","x":3.9348,"y":0.5024},{"s":"Clouds-K","x":3.9662,"y":0.501},{"s":"Clouds-K","x":3.9871,"y":0.5087},{"s":"Clouds-K","x":4.03,"y":0.5112},{"s":"Clouds-K","x":4.0625,"y":0.5074},{"s":"Clouds-K","x":4.0949,"y":0.5062},{"s":"Clouds-K","x":4.1165,"y":0.5137},{"s":"Clouds-K","x":4.1499,"y":0.5239},{"s":"Clouds-K","x":4.1944,"y":0.5441},{"s":"Clouds-K","x":4.2279,"y":0.5643},{"s":"Clouds-K","x":4.2619,"y":0.568},{"s":"Clouds-K","x":4.3072,"y":0.5719},{"s":"Clouds-K","x":4.342,"y":0.573},{"s":"Clouds-K","x":4.3766,"y":0.577},{"s":"Clouds-K","x":4.4236,"y":0.5744},{"s":"Clouds-K","x":4.4587,"y":0.5694},{"s":"Clouds-K","x":4.4949,"y":0.5542},{"s":"Clouds-K","x":4.5431,"y":0.5491},{"s":"Clouds-K","x":4.5794,"y":0.5542},{"s":"Clouds-K","x":4.6162,"y":0.5643},{"s":"Clouds-K","x":4.6653,"y":0.5542},{"s":"Clouds-K","x":4.703,"y":0.5416},{"s":"Clouds-K","x":4.7404,"y":0.534},{"s":"Clouds-K","x":4.7914,"y":0.544},{"s":"Clouds-K","x":4.8295,"y":0.5516},{"s":"Clouds-K","x":4.8686,"y":0.5592},{"s":"Clouds-K","x":4.9208,"y":0.5542},{"s":"Clouds-K","x":4.9601,"y":0.5491},{"s":"Clouds-K","x":5.0,"y":0.548}
    ],
    "flat": [{"x": 0.7, "h": 0}, {"x": 5.0, "h": 0}],
    "ldss": [
      {"x":0.7202,"y":0.5012,"lo":0.4842,"hi":0.5182},{"x":0.7318,"y":0.4455,"lo":0.429,"hi":0.462},{"x":0.7441,"y":0.4345,"lo":0.4195,"hi":0.4495},{"x":0.7574,"y":0.4246,"lo":0.4036,"hi":0.4456},{"x":0.7703,"y":0.477,"lo":0.461,"hi":0.493},{"x":0.7814,"y":0.478,"lo":0.462,"hi":0.494},{"x":0.794,"y":0.4652,"lo":0.4512,"hi":0.4792},{"x":0.8081,"y":0.4632,"lo":0.4487,"hi":0.4777},{"x":0.819,"y":0.5115,"lo":0.4985,"hi":0.5245},{"x":0.8321,"y":0.5188,"lo":0.5058,"hi":0.5318},{"x":0.8449,"y":0.5207,"lo":0.5087,"hi":0.5327},{"x":0.8578,"y":0.503,"lo":0.491,"hi":0.515},{"x":0.87,"y":0.5078,"lo":0.4958,"hi":0.5198},{"x":0.8833,"y":0.5107,"lo":0.4987,"hi":0.5227},{"x":0.8951,"y":0.483,"lo":0.47,"hi":0.496},{"x":0.9071,"y":0.5012,"lo":0.4882,"hi":0.5142},{"x":0.92,"y":0.51,"lo":0.498,"hi":0.522},{"x":0.933,"y":0.5135,"lo":0.4995,"hi":0.5275},{"x":0.9455,"y":0.5479,"lo":0.5309,"hi":0.5649},{"x":0.9582,"y":0.5384,"lo":0.5224,"hi":0.5544},{"x":0.971,"y":0.5074,"lo":0.4924,"hi":0.5224},{"x":0.9825,"y":0.4645,"lo":0.4485,"hi":0.4805},{"x":0.9956,"y":0.473,"lo":0.456,"hi":0.49}
    ],
    "spitzer": [
      {"x":3.613,"y":0.5251,"lo":0.5131,"hi":0.5371,"xlo":3.2056,"xhi":4.0},
      {"x":4.51,"y":0.558,"lo":0.5295,"hi":0.5865,"xlo":4.0,"xhi":5.0}
    ],
    "binned": [
      {"s":"Solar","x":3.613,"y":0.5484},{"s":"Solar-K","x":3.613,"y":0.5706},{"s":"100xSolar-K","x":3.613,"y":0.5315},{"s":"Clouds-K","x":3.613,"y":0.5235},
      {"s":"Solar","x":4.51,"y":0.5808},{"s":"Solar-K","x":4.51,"y":0.6035},{"s":"100xSolar-K","x":4.51,"y":0.5572},{"s":"Clouds-K","x":4.51,"y":0.5484}
    ]
  },
  "layer": [
    {
      "data": {"name": "models"},
      "mark": {"type": "line", "strokeWidth": 1.3},
      "encoding": {
        "x": {
          "field": "x", "type": "quantitative",
          "scale": {"type": "log", "domain": [0.7, 5], "nice": false},
          "axis": {"orient": "bottom", "values": [0.7, 1, 1.3, 1.7, 2, 3, 4, 5], "format": "~g", "labelFlush": false, "labelOverlap": false, "labelPadding": 9.5, "title": "Wavelength (μm)", "titlePadding": 1.5}
        },
        "y": {
          "field": "y", "type": "quantitative",
          "scale": {"domain": [0.4, 0.68], "nice": false, "zero": false},
          "axis": {"orient": "left", "values": [0.4, 0.45, 0.5, 0.55, 0.6, 0.65], "format": ".2f", "labelPadding": 8.5, "title": "Transit Depth (%)", "titlePadding": -2}
        },
        "color": {
          "field": "s", "type": "nominal",
          "scale": {
            "domain": ["Solar", "Solar-K", "100xSolar-K", "Clouds-K", "Flat", "LDSS-3C", "Spitzer"],
            "range": ["#bf00bf", "#0000ff", "#ff0000", "#008000", "#00bfbf", "#000000", "#000000"]
          },
          "legend": {
            "orient": "none", "legendX": 473, "legendY": 278, "columns": 2, "title": null,
            "symbolSize": 900, "symbolStrokeWidth": 1.3, "symbolOffset": 6.5,
            "labelFont": "DejaVu Sans", "labelFontSize": 14, "labelColor": "black", "labelOffset": 17.2,
            "columnPadding": 19.5, "rowPadding": 2.8, "padding": 5,
            "strokeColor": "black", "fillColor": "white", "cornerRadius": 0,
            "encode": {
              "symbols": {
                "update": {
                  "shape": {"signal": "datum.value === 'LDSS-3C' ? 'M-1.13,0H-0.16M0.16,0H1.13M-1.13,-0.2V0.2M-0.16,-0.2V0.2M0.16,-0.2V0.2M1.13,-0.2V0.2M-0.645,-0.49V0.49M-0.845,-0.49H-0.445M-0.845,0.49H-0.445M0.645,-0.49V0.49M0.445,-0.49H0.845M0.445,0.49H0.845M-0.645,-0.3L-0.345,0L-0.645,0.3L-0.945,0ZM0.645,-0.3L0.945,0L0.645,0.3L0.345,0Z' : datum.value === 'Spitzer' ? 'M-1.13,0H-0.16M0.16,0H1.13M-1.13,-0.2V0.2M-0.16,-0.2V0.2M0.16,-0.2V0.2M1.13,-0.2V0.2M-0.645,-0.49V0.49M-0.845,-0.49H-0.445M-0.845,0.49H-0.445M0.645,-0.49V0.49M0.445,-0.49H0.845M0.445,0.49H0.845M-0.895,-0.25H-0.395V0.25H-0.895ZM0.395,-0.25H0.895V0.25H0.395Z' : 'M-0.733,0H0.733'"},
                  "fill": {"signal": "datum.value === 'LDSS-3C' || datum.value === 'Spitzer' ? 'black' : 'transparent'"},
                  "strokeDash": {"signal": "datum.value === 'Flat' ? [8, 6] : null"},
                  "strokeWidth": {"signal": "datum.value === 'Flat' ? 2.6 : 1.3"},
                  "opacity": {"value": 1}
                }
              }
            }
          }
        }
      }
    },
    {
      "data": {"name": "flat"},
      "mark": {"type": "line", "color": "#00bfbf", "strokeWidth": 2.6, "strokeDash": [8, 5.5]},
      "encoding": {
        "x": {
          "field": "x", "type": "quantitative",
          "axis": {"orient": "top", "values": [0.7, 1, 1.3, 1.7, 2, 3, 4, 5], "labels": false, "title": null}
        },
        "y": {
          "field": "h", "type": "quantitative",
          "scale": {"domain": [-4.92, 7.91], "nice": false, "zero": false},
          "axis": {"orient": "right", "values": [-4, -2, 0, 2, 4, 6], "format": "d", "labelPadding": 9.8, "title": "Scale Height", "titleAngle": 270, "titleBaseline": "top", "titlePadding": -1.5}
        }
      }
    },
    {
      "layer": [
        {
          "data": {"name": "ldss"},
          "mark": {"type": "rule", "color": "black", "strokeWidth": 1.2},
          "encoding": {
            "x": {"field": "x", "type": "quantitative", "axis": null},
            "y": {"field": "lo", "type": "quantitative", "scale": {"domain": [0.4, 0.68], "nice": false, "zero": false}, "axis": null},
            "y2": {"field": "hi"}
          }
        },
        {
          "data": {"name": "ldss"},
          "mark": {"type": "tick", "orient": "horizontal", "color": "black", "size": 7, "thickness": 1.2, "opacity": 1},
          "encoding": {
            "x": {"field": "x", "type": "quantitative", "axis": null},
            "y": {"field": "lo", "type": "quantitative", "axis": null}
          }
        },
        {
          "data": {"name": "ldss"},
          "mark": {"type": "tick", "orient": "horizontal", "color": "black", "size": 7, "thickness": 1.2, "opacity": 1},
          "encoding": {
            "x": {"field": "x", "type": "quantitative", "axis": null},
            "y": {"field": "hi", "type": "quantitative", "axis": null}
          }
        },
        {
          "data": {"name": "ldss"},
          "mark": {"type": "line", "color": "black", "strokeWidth": 1.5},
          "encoding": {
            "x": {"field": "x", "type": "quantitative", "axis": null},
            "y": {"field": "y", "type": "quantitative", "axis": null}
          }
        },
        {
          "data": {"name": "ldss"},
          "mark": {"type": "point", "shape": "diamond", "filled": true, "size": 100, "color": "black", "opacity": 1},
          "encoding": {
            "x": {"field": "x", "type": "quantitative", "axis": null},
            "y": {"field": "y", "type": "quantitative", "axis": null}
          }
        },
        {
          "data": {"name": "binned"},
          "mark": {"type": "square", "size": 90, "opacity": 1, "stroke": "#222222", "strokeWidth": 0.6},
          "encoding": {
            "x": {"field": "x", "type": "quantitative", "axis": null},
            "y": {"field": "y", "type": "quantitative", "axis": null},
            "fill": {
              "field": "s", "type": "nominal",
              "scale": {"domain": ["Solar", "Solar-K", "100xSolar-K", "Clouds-K"], "range": ["#bf00bf", "#0000ff", "#ff0000", "#008000"]},
              "legend": null
            }
          }
        },
        {
          "data": {"name": "spitzer"},
          "mark": {"type": "rule", "color": "black", "strokeWidth": 1.2},
          "encoding": {
            "x": {"field": "x", "type": "quantitative", "axis": null},
            "y": {"field": "lo", "type": "quantitative", "axis": null},
            "y2": {"field": "hi"}
          }
        },
        {
          "data": {"name": "spitzer"},
          "mark": {"type": "rule", "color": "black", "strokeWidth": 1.2},
          "encoding": {
            "x": {"field": "xlo", "type": "quantitative", "axis": null},
            "x2": {"field": "xhi"},
            "y": {"field": "y", "type": "quantitative", "axis": null}
          }
        },
        {
          "data": {"name": "spitzer"},
          "mark": {"type": "tick", "orient": "horizontal", "color": "black", "size": 7, "thickness": 1.2, "opacity": 1},
          "encoding": {
            "x": {"field": "x", "type": "quantitative", "axis": null},
            "y": {"field": "lo", "type": "quantitative", "axis": null}
          }
        },
        {
          "data": {"name": "spitzer"},
          "mark": {"type": "tick", "orient": "horizontal", "color": "black", "size": 7, "thickness": 1.2, "opacity": 1},
          "encoding": {
            "x": {"field": "x", "type": "quantitative", "axis": null},
            "y": {"field": "hi", "type": "quantitative", "axis": null}
          }
        },
        {
          "data": {"name": "spitzer"},
          "mark": {"type": "tick", "orient": "vertical", "color": "black", "size": 7, "thickness": 1.2, "opacity": 1},
          "encoding": {
            "x": {"field": "xlo", "type": "quantitative", "axis": null},
            "y": {"field": "y", "type": "quantitative", "axis": null}
          }
        },
        {
          "data": {"name": "spitzer"},
          "mark": {"type": "tick", "orient": "vertical", "color": "black", "size": 7, "thickness": 1.2, "opacity": 1},
          "encoding": {
            "x": {"field": "xhi", "type": "quantitative", "axis": null},
            "y": {"field": "y", "type": "quantitative", "axis": null}
          }
        },
        {
          "data": {"name": "spitzer"},
          "mark": {"type": "square", "size": 64, "color": "black", "opacity": 1},
          "encoding": {
            "x": {"field": "x", "type": "quantitative", "axis": null},
            "y": {"field": "y", "type": "quantitative", "axis": null}
          }
        }
      ]
    }
  ],
  "resolve": {"scale": {"y": "independent"}, "axis": {"x": "independent", "y": "independent"}}
}
